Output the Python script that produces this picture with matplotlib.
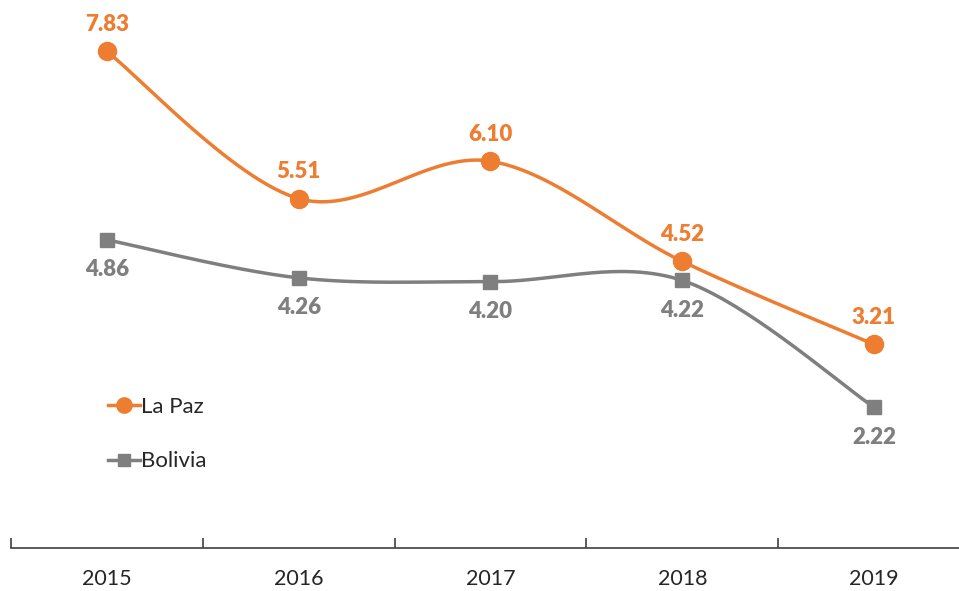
import numpy as np
import matplotlib
matplotlib.use("Agg")
import matplotlib.pyplot as plt
from matplotlib.lines import Line2D

years = ["2015", "2016", "2017", "2018", "2019"]
la_paz = [7.83, 5.51, 6.10, 4.52, 3.21]
bolivia = [4.86, 4.26, 4.20, 4.22, 2.22]

ORANGE = "#ED7D31"
GRAY = "#7F7F7F"

plt.rcParams['font.family'] = ['Lato', 'DejaVu Sans']


def smooth(xs, ys, n=60):
    xs = np.asarray(xs, float); ys = np.asarray(ys, float)
    px = np.concatenate([[xs[0]], xs, [xs[-1]]])
    py = np.concatenate([[ys[0]], ys, [ys[-1]]])
    outx, outy = [], []
    t = np.linspace(0, 1, n)
    for i in range(1, len(px) - 2):
        p0 = np.array([px[i], py[i]]); p3 = np.array([px[i + 1], py[i + 1]])
        c1 = p0 + (np.array([px[i + 1], py[i + 1]]) - np.array([px[i - 1], py[i - 1]])) / 6
        c2 = p3 - (np.array([px[i + 2], py[i + 2]]) - np.array([px[i], py[i]])) / 6
        b = ((1 - t) ** 3)[:, None] * p0 + (3 * (1 - t) ** 2 * t)[:, None] * c1 \
            + (3 * (1 - t) * t ** 2)[:, None] * c2 + (t ** 3)[:, None] * p3
        outx.extend(b[:, 0]); outy.extend(b[:, 1])
    return np.array(outx), np.array(outy)


W, H = 959, 591
fig = plt.figure(figsize=(W / 100, H / 100), dpi=100)
ax = fig.add_axes([11 / W, (H - 548) / H, 1 - 11 / W, 539 / H])

x = np.arange(len(years))
sx, sy = smooth(x, bolivia)
ax.plot(sx, sy, color=GRAY, lw=2.5, solid_capstyle='round', zorder=2)
ax.plot(x, bolivia, ls='none', marker='s', ms=10, color=GRAY, zorder=3)
sx, sy = smooth(x, la_paz)
ax.plot(sx, sy, color=ORANGE, lw=2.5, solid_capstyle='round', zorder=4)
ax.plot(x, la_paz, ls='none', marker='o', ms=13, color=ORANGE, zorder=5)

for xi, v in zip(x, la_paz):
    ax.annotate(f"{v:.2f}", (xi, v), xytext=(0, 27), textcoords='offset pixels',
                ha='center', va='center', fontsize=16, fontweight='heavy', color=ORANGE)
for xi, v in zip(x, bolivia):
    ax.annotate(f"{v:.2f}", (xi, v), xytext=(0, -30), textcoords='offset pixels',
                ha='center', va='center', fontsize=16, fontweight='heavy', color=GRAY)

ax.set_xlim(-0.5, 4.443)
ax.set_ylim(0, 8.5)
for s in ['left', 'right', 'top']:
    ax.spines[s].set_visible(False)
ax.spines['bottom'].set_color('#404040')
ax.spines['bottom'].set_linewidth(1.2)
ax.set_yticks([])
ax.set_xticks(np.arange(-0.5, 4.0, 1.0))
ax.set_xticklabels([])
ax.tick_params(axis='x', which='major', direction='in', length=7, width=1.2, color='#404040')
ax.set_xticks(x, minor=True)
ax.set_xticklabels(years, minor=True)
ax.tick_params(axis='x', which='minor', length=0, pad=15, labelsize=15.5, labelcolor='#262626')

handles = [Line2D([], [], color=ORANGE, lw=2.5, marker='o', ms=11),
           Line2D([], [], color=GRAY, lw=2.5, marker='s', ms=9)]
fig.legend(handles, ["La Paz", "Bolivia"], loc='upper left', bbox_to_anchor=(88 / W, 1 - 377 / H),
           frameon=False, fontsize=16, labelspacing=1.55, handlelength=1.45, handletextpad=0.05,
           labelcolor='#262626')

fig.savefig("out.png", dpi=100)
